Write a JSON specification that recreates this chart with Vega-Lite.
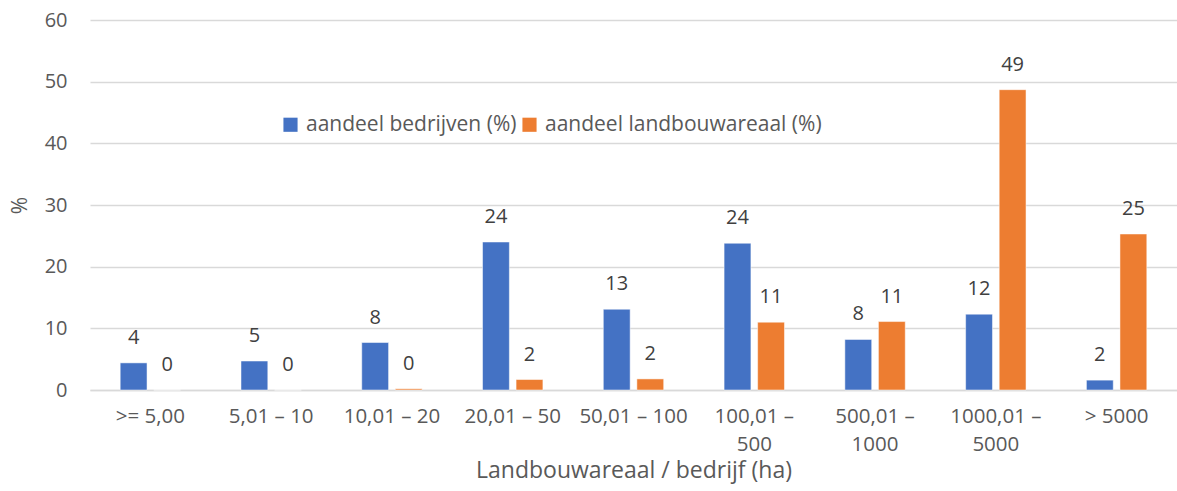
{
  "$schema": "https://vega.github.io/schema/vega-lite/v6.json",
  "width": 1087,
  "height": 370,
  "autosize": "none",
  "padding": {"left": 90, "top": 20, "right": 0, "bottom": 101},
  "background": "white",
  "config": {
    "font": "Open Sans",
    "view": {"stroke": null},
    "axis": {"labelFont": "Open Sans", "titleFont": "Open Sans"}
  },
  "data": {
    "values": [
      {"category": ">= 5,00", "series": "aandeel bedrijven (%)", "value": 4.4},
      {"category": ">= 5,00", "series": "aandeel landbouwareaal (%)", "value": 0.0},
      {"category": "5,01 – 10", "series": "aandeel bedrijven (%)", "value": 4.7},
      {"category": "5,01 – 10", "series": "aandeel landbouwareaal (%)", "value": 0.0},
      {"category": "10,01 – 20", "series": "aandeel bedrijven (%)", "value": 7.7},
      {"category": "10,01 – 20", "series": "aandeel landbouwareaal (%)", "value": 0.2},
      {"category": "20,01 – 50", "series": "aandeel bedrijven (%)", "value": 24.0},
      {"category": "20,01 – 50", "series": "aandeel landbouwareaal (%)", "value": 1.7},
      {"category": "50,01 – 100", "series": "aandeel bedrijven (%)", "value": 13.1},
      {"category": "50,01 – 100", "series": "aandeel landbouwareaal (%)", "value": 1.8},
      {"category": "100,01 – 500", "series": "aandeel bedrijven (%)", "value": 23.8},
      {"category": "100,01 – 500", "series": "aandeel landbouwareaal (%)", "value": 11.0},
      {"category": "500,01 – 1000", "series": "aandeel bedrijven (%)", "value": 8.2},
      {"category": "500,01 – 1000", "series": "aandeel landbouwareaal (%)", "value": 11.1},
      {"category": "1000,01 – 5000", "series": "aandeel bedrijven (%)", "value": 12.3},
      {"category": "1000,01 – 5000", "series": "aandeel landbouwareaal (%)", "value": 48.7},
      {"category": "> 5000", "series": "aandeel bedrijven (%)", "value": 1.6},
      {"category": "> 5000", "series": "aandeel landbouwareaal (%)", "value": 25.3}
    ]
  },
  "encoding": {
    "x": {
      "field": "category",
      "type": "nominal",
      "sort": null,
      "scale": {"paddingInner": 0.5, "paddingOuter": 0.25},
      "axis": {
        "labelAngle": 0,
        "labelFontSize": 20.5,
        "labelColor": "#595959",
        "labelPadding": 16,
        "labelLineHeight": 28,
        "labelBaseline": "top",
        "labelExpr": "length(datum.label) > 11 ? split(replace(datum.label, '– ', '–|'), '|') : datum.label",
        "ticks": false,
        "domainColor": "#d9d9d9",
        "domainWidth": 1.5,
        "title": "Landbouwareaal / bedrijf (ha)",
        "titleFontSize": 23,
        "titleFontWeight": "normal",
        "titleColor": "#595959",
        "titleY": 80,
        "titleBaseline": "middle"
      }
    },
    "xOffset": {
      "field": "series",
      "type": "nominal",
      "scale": {"paddingInner": 0.2, "paddingOuter": 0}
    },
    "y": {
      "field": "value",
      "type": "quantitative",
      "scale": {"domain": [0, 60], "nice": false},
      "axis": {
        "values": [0, 10, 20, 30, 40, 50, 60],
        "labelFontSize": 20,
        "labelColor": "#595959",
        "labelPadding": 23,
        "ticks": false,
        "domain": false,
        "gridColor": "#d9d9d9",
        "gridWidth": 1.5,
        "title": "%",
        "titleFontSize": 21,
        "titleFontWeight": "normal",
        "titleColor": "#595959",
        "titlePadding": 14
      }
    },
    "color": {
      "field": "series",
      "type": "nominal",
      "scale": {"range": ["#4472C4", "#ED7D31"]},
      "legend": {
        "title": null,
        "orient": "none",
        "legendX": 190,
        "legendY": 94,
        "direction": "horizontal",
        "symbolType": "square",
        "symbolSize": 200,
        "symbolStrokeWidth": 0,
        "labelFontSize": 21,
        "labelColor": "#595959",
        "labelOffset": 5,
        "labelLimit": 0,
        "columnPadding": 2
      }
    }
  },
  "layer": [
    {"mark": {"type": "bar", "stroke": "white", "strokeWidth": 0.5}},
    {
      "mark": {"type": "text", "dy": -25, "fontSize": 20, "baseline": "middle"},
      "encoding": {
        "text": {"field": "value", "type": "quantitative", "format": ".0f"},
        "color": {"value": "#404040"}
      }
    }
  ]
}
